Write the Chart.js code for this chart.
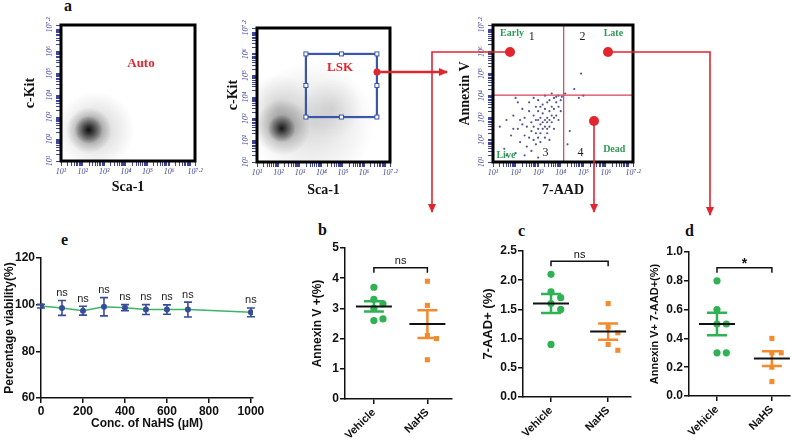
<!DOCTYPE html>
<html>
<head>
<meta charset="utf-8">
<script src="https://cdn.jsdelivr.net/npm/chart.js@4.4.1/dist/chart.umd.min.js"></script>
<style>
  html, body { margin: 0; padding: 0; background: #fff; }
  body { width: 800px; height: 441px; position: relative; overflow: hidden; }
  canvas { position: absolute; }
  .tag { position: absolute; font: bold 16px "Liberation Serif", serif; color: #111; line-height: 1; }
  svg { position: absolute; left: 0; top: 0; pointer-events: none; }
</style>
</head>
<body>
<div class="tag" style="left:64px;top:-2px">a</div>
<div class="tag" style="left:318px;top:222px">b</div>
<div class="tag" style="left:518px;top:223px">c</div>
<div class="tag" style="left:685px;top:223px">d</div>
<div class="tag" style="left:61px;top:232px">e</div>

<script>
// ---- panel a: flow plots, axes in log10 units ----
const decadeTicks = [1, 2, 3, 4, 5, 6, 7.2];
const decadeLabels = ['10¹', '10²', '10³', '10⁴', '10⁵', '10⁶', '10⁷·²'];
// density clouds: [x, y, spread (decades), density]
const autoCloud = [[2.6, 2.4, 1.8, 0.2], [2.3, 2.4, 1.05, 0.5], [2.28, 2.42, 0.65, 0.85]];
const lskCloud = [[3.6, 2.8, 2.9, 0.16], [2.0, 3.5, 1.6, 0.14], [4.5, 3.5, 1.4, 0.1],
                  [2.2, 2.6, 1.3, 0.42], [2.15, 2.55, 0.65, 0.82]];
const lskGate = [3.28, 6.59, 3.08, 6.0]; // x from, x to, y from, y to
const quadCut = [4.13, 4.03];
const apoptosisDots = [
  [1.3, 2.6], [1.5, 1.6], [1.6, 2.9], [1.8, 2.2], [1.9, 3.1], [2.0, 1.4], [2.1, 2.5], [2.2, 2.9],
  [2.2, 1.9], [2.3, 3.4], [2.4, 2.2], [2.4, 3.0], [2.5, 2.6], [2.5, 1.7], [2.6, 3.3], [2.6, 2.1],
  [2.7, 2.8], [2.7, 2.4], [2.7, 1.5], [2.8, 3.1], [2.8, 2.0], [2.8, 2.6], [2.9, 3.5], [2.9, 2.3],
  [2.9, 1.8], [3.0, 2.9], [3.0, 2.5], [3.0, 3.3], [3.0, 2.1], [3.1, 2.7], [3.1, 3.0], [3.1, 1.9],
  [3.1, 2.3], [3.2, 3.6], [3.2, 2.8], [3.2, 2.5], [3.2, 3.2], [3.3, 2.1], [3.3, 2.9], [3.3, 3.4],
  [3.3, 2.6], [3.4, 3.0], [3.4, 3.7], [3.4, 2.3], [3.4, 2.8], [3.5, 3.3], [3.5, 2.6], [3.5, 3.8],
  [3.5, 2.0], [3.6, 3.1], [3.6, 3.5], [3.6, 2.8], [3.7, 3.9], [3.7, 3.4], [3.7, 2.5], [3.8, 3.7],
  [3.8, 3.1], [3.8, 3.95], [3.9, 3.5], [3.9, 2.9], [4.0, 3.8], [4.0, 3.3], [4.05, 3.95], [2.0, 3.9],
  [3.3, 4.0], [3.6, 4.1], [4.3, 1.8], [4.4, 2.4], [4.8, 3.9], [5.0, 4.0], [4.9, 5.0], [4.6, 4.3],
  [4.2, 4.1], [1.6, 1.3], [2.4, 1.3], [3.0, 1.2], [2.1, 3.7], [2.6, 3.7], [3.0, 3.8], [3.9, 4.0],
  [1.9, 2.5], [2.3, 2.7], [3.5, 2.9], [2.8, 3.9], [3.1, 3.5], [2.9, 2.9], [3.4, 2.5], [3.7, 3.0]
];

// ---- panels b-d: apoptosis percentages ----
const groups = ['Vehicle', 'NaHS'];
const annexinVehicle = [3.7, 3.3, 3.15, 3.0, 2.6, 2.65];
const annexinNaHS = [3.9, 3.1, 2.1, 2.0, 1.3];
const aadVehicle = [2.1, 1.8, 1.7, 1.6, 1.5, 0.9];
const aadNaHS = [1.6, 1.2, 1.1, 0.9, 0.8];
const doubleVehicle = [0.8, 0.6, 0.5, 0.5, 0.3, 0.3];
const doubleNaHS = [0.4, 0.3, 0.3, 0.2, 0.1];
const significance = ['ns', 'ns', '*'];

// ---- panel e: viability ----
const concentrations = [0, 100, 200, 300, 400, 500, 600, 700, 1000];
const viability = [99.4, 98.6, 97.4, 99.1, 98.7, 97.9, 97.9, 97.9, 96.7];
const viabilitySem = [0.8, 3.2, 1.9, 3.9, 1.3, 2.1, 2.0, 3.2, 1.9];
const viabilityStats = ['', 'ns', 'ns', 'ns', 'ns', 'ns', 'ns', 'ns', 'ns'];

const serif = '"Liberation Serif", "Times New Roman", serif';
const sans = '"Liberation Sans", Arial, sans-serif';
const TICK_BLUE = '#3f469a';
const RED = '#e0262f';
const GREEN = '#2fb254';
const ORANGE = '#f28a2e';

Chart.defaults.animation = false;
Chart.defaults.responsive = false;
Chart.defaults.plugins.legend.display = false;
Chart.defaults.plugins.tooltip.enabled = false;

// canvas placed so that chartArea lands on box = [left, top, right, bottom]
function makeCanvas(box, pad) {
  const c = document.createElement('canvas');
  c.width = box[2] - box[0] + pad.l + pad.r;
  c.height = box[3] - box[1] + pad.t + pad.b;
  c.style.left = (box[0] - pad.l) + 'px';
  c.style.top = (box[1] - pad.t) + 'px';
  document.body.appendChild(c);
  return c;
}
function fixedLayout(pad) {
  return { autoPadding: false, padding: { left: 0, top: pad.t, right: pad.r, bottom: 0 } };
}

function logTicks() {
  const t = [];
  for (let n = 1; n <= 7; n++) {
    for (let k = 1; k <= 9; k++) {
      const v = n + Math.log10(k);
      if (v < 7.2) t.push({ value: v });
    }
  }
  t.push({ value: 7.2 });
  return t;
}
function decadeLabel(v) {
  const i = decadeTicks.findIndex(d => Math.abs(d - v) < 1e-6);
  return i >= 0 ? decadeLabels[i] : '';
}

function flowAxis(title, vertical, size, titlePad) {
  return {
    type: 'linear', min: 1, max: 7.2,
    afterBuildTicks: s => { s.ticks = logTicks(); },
    afterFit: s => { if (vertical) s.width = size; else s.height = size; },
    ticks: {
      autoSkip: false, maxRotation: 0, padding: 1, color: TICK_BLUE,
      font: { family: serif, size: 8, style: 'italic' },
      callback: v => vertical ? '' : decadeLabel(v)
    },
    grid: { drawOnChartArea: false, drawTicks: true, tickLength: 5, color: TICK_BLUE, lineWidth: 1 },
    border: { display: false },
    title: { display: true, text: title, color: '#111', padding: { top: titlePad, bottom: titlePad },
             font: { family: serif, size: 14, weight: 'bold' } }
  };
}

// rotated decade labels on y, and the heavy frame
const flowFrame = {
  id: 'flowFrame',
  afterDraw(chart) {
    const { ctx, chartArea: a, scales: { y } } = chart;
    ctx.save();
    ctx.font = 'italic 8px ' + serif;
    ctx.fillStyle = TICK_BLUE;
    ctx.textAlign = 'center';
    ctx.textBaseline = 'middle';
    decadeTicks.forEach((v, i) => {
      ctx.save();
      ctx.translate(a.left - 11, y.getPixelForValue(v));
      ctx.rotate(-Math.PI / 2);
      ctx.fillText(decadeLabels[i], 0, 0);
      ctx.restore();
    });
    ctx.lineWidth = 3;
    ctx.strokeStyle = '#000';
    ctx.strokeRect(a.left, a.top, a.right - a.left, a.bottom - a.top);
    ctx.restore();
  }
};

function cloudRadius(c) {
  const area = c.chart.chartArea;
  if (c.type !== 'data' || !area || !c.raw) return 0;
  return c.raw[2] * area.width / 6.2;
}
function cloudFill(c) {
  const ch = c.chart;
  if (c.type !== 'data' || !ch.chartArea || !c.raw) return 'rgba(0,0,0,0)';
  const px = ch.scales.x.getPixelForValue(c.raw[0]);
  const py = ch.scales.y.getPixelForValue(c.raw[1]);
  const r = Math.max(cloudRadius(c), 1);
  if (!isFinite(px) || !isFinite(py)) return 'rgba(0,0,0,0)';
  const d = c.raw[3];
  const g = ch.ctx.createRadialGradient(px, py, 0, px, py, r);
  g.addColorStop(0, `rgba(0,0,0,${d})`);
  g.addColorStop(0.45, `rgba(0,0,0,${d * 0.5})`);
  g.addColorStop(1, 'rgba(0,0,0,0)');
  return g;
}
function cloudDataset(cloud) {
  return { data: cloud, pointRadius: cloudRadius, pointBackgroundColor: cloudFill, pointBorderWidth: 0 };
}

function textAt(chart, str, x, y, font, color) {
  const { ctx, scales } = chart;
  ctx.save();
  ctx.font = font;
  ctx.fillStyle = color;
  ctx.textAlign = 'center';
  ctx.textBaseline = 'middle';
  ctx.fillText(str, scales.x.getPixelForValue(x), scales.y.getPixelForValue(y));
  ctx.restore();
}

function flowChart(box, pad, xTitle, yTitle, tp, datasets, extra) {
  const chart = new Chart(makeCanvas(box, pad), {
    type: 'scatter',
    data: { datasets },
    options: {
      layout: fixedLayout(pad),
      scales: { x: flowAxis(xTitle, false, pad.b, tp.x), y: flowAxis(yTitle, true, pad.l, tp.y) },
      elements: { point: { hoverRadius: 0 } }
    },
    plugins: [flowFrame, { id: 'extra', afterDatasetsDraw: extra }]
  });
  chart.update(); // second pass so the scriptable clouds see the finished layout
  return chart;
}

// panel a, left: autofluorescence
flowChart([61, 25, 195, 161], { l: 47, t: 10, r: 12, b: 40 }, 'Sca-1', 'c-Kit', { x: 5.6, y: 7.6 },
  [cloudDataset(autoCloud)],
  chart => textAt(chart, 'Auto', 4.7, 5.42, 'bold 13px ' + serif, RED));

// panel a, middle: LSK gate
flowChart([257, 28, 390, 162], { l: 42, t: 13, r: 12, b: 42 }, 'Sca-1', 'c-Kit', { x: 5.6, y: 9.6 },
  [cloudDataset(lskCloud)],
  chart => {
    const { ctx, scales: { x, y } } = chart;
    const x0 = x.getPixelForValue(lskGate[0]), x1 = x.getPixelForValue(lskGate[1]);
    const y0 = y.getPixelForValue(lskGate[3]), y1 = y.getPixelForValue(lskGate[2]);
    ctx.save();
    ctx.strokeStyle = '#3b55a8';
    ctx.lineWidth = 2.2;
    ctx.strokeRect(x0, y0, x1 - x0, y1 - y0);
    ctx.fillStyle = '#fff';
    ctx.lineWidth = 1;
    [[x0, y0], [(x0 + x1) / 2, y0], [x1, y0], [x0, (y0 + y1) / 2], [x1, (y0 + y1) / 2],
     [x0, y1], [(x0 + x1) / 2, y1], [x1, y1]].forEach(([hx, hy]) => {
      ctx.fillRect(hx - 2, hy - 2, 4, 4);
      ctx.strokeRect(hx - 2, hy - 2, 4, 4);
    });
    ctx.restore();
    textAt(chart, 'LSK', 4.87, 5.35, 'bold 13px ' + serif, RED);
  });

// panel a, right: Annexin V / 7-AAD quadrants
const quadLabels = [
  ['Early', 1.84, 6.84, true], ['1', 2.72, 6.66, false], ['2', 4.96, 6.66, false], ['Late', 6.33, 6.84, true],
  ['Live', 1.57, 1.32, true], ['3', 3.33, 1.42, false], ['4', 4.88, 1.42, false], ['Dead', 6.37, 1.59, true]
];
flowChart([493, 25, 633, 162], { l: 43, t: 10, r: 12, b: 42 }, '7-AAD', 'Annexin V', { x: 5.6, y: 6.6 },
  [{ data: apoptosisDots, pointRadius: 1.1, pointBackgroundColor: '#55558f', pointBorderWidth: 0 }],
  chart => {
    const { ctx, chartArea: a, scales: { x, y } } = chart;
    ctx.save();
    ctx.strokeStyle = '#d9415a';
    ctx.lineWidth = 1.2;
    ctx.beginPath();
    ctx.moveTo(x.getPixelForValue(quadCut[0]), a.top);
    ctx.lineTo(x.getPixelForValue(quadCut[0]), a.bottom);
    ctx.moveTo(a.left, y.getPixelForValue(quadCut[1]));
    ctx.lineTo(a.right, y.getPixelForValue(quadCut[1]));
    ctx.stroke();
    ctx.restore();
    quadLabels.forEach(([t, lx, ly, named]) =>
      textAt(chart, t, lx, ly, named ? 'bold 10px ' + serif : '12px ' + serif, named ? '#2e9a55' : '#222'));
  });

// ---- panels b-d ----
function swarm(vals, cat, range) {
  const placed = [];
  return vals.map(v => {
    for (const o of [0, 0.17, -0.17, 0.34, -0.34]) {
      if (!placed.some(p => Math.abs(p.x - cat - o) < 0.05 && Math.abs(p.y - v) < range * 0.05)) {
        const p = { x: cat + o, y: v };
        placed.push(p);
        return p;
      }
    }
    return { x: cat, y: v };
  });
}

const meanSem = {
  id: 'meanSem',
  afterDatasetsDraw(chart, args, opts) {
    const { ctx, scales: { x, y } } = chart;
    ctx.save();
    let top = -Infinity;
    chart.data.datasets.forEach((ds, i) => {
      const vals = ds.data.map(p => p.y);
      const n = vals.length;
      const m = vals.reduce((a, b) => a + b, 0) / n;
      const sem = Math.sqrt(vals.reduce((a, v) => a + (v - m) ** 2, 0) / (n - 1) / n);
      top = Math.max(top, ...vals);
      const cx = x.getPixelForValue(i + 1);
      const yHi = y.getPixelForValue(m + sem), yLo = y.getPixelForValue(m - sem);
      ctx.strokeStyle = ds.pointBackgroundColor;
      ctx.lineWidth = 2.5;
      ctx.beginPath();
      ctx.moveTo(cx, yHi); ctx.lineTo(cx, yLo);
      ctx.moveTo(cx - 10, yHi); ctx.lineTo(cx + 10, yHi);
      ctx.moveTo(cx - 10, yLo); ctx.lineTo(cx + 10, yLo);
      ctx.stroke();
      ctx.strokeStyle = '#111';
      ctx.lineWidth = 2;
      ctx.beginPath();
      ctx.moveTo(cx - 18, y.getPixelForValue(m)); ctx.lineTo(cx + 18, y.getPixelForValue(m));
      ctx.stroke();
    });
    // comparison bracket
    const by = y.getPixelForValue(top + (y.max - y.min) * 0.09);
    const bx0 = x.getPixelForValue(1), bx1 = x.getPixelForValue(2);
    ctx.strokeStyle = '#111';
    ctx.lineWidth = 1.5;
    ctx.beginPath();
    ctx.moveTo(bx0, by + 5); ctx.lineTo(bx0, by); ctx.lineTo(bx1, by); ctx.lineTo(bx1, by + 5);
    ctx.stroke();
    ctx.fillStyle = '#111';
    ctx.textAlign = 'center';
    ctx.textBaseline = 'bottom';
    ctx.font = (opts.label === '*' ? 'bold 14px ' : '11px ') + sans;
    ctx.fillText(opts.label, (bx0 + bx1) / 2, by - (opts.label === '*' ? -3 : 1));
    ctx.restore();
  }
};

function dotPlot(box, pad, xMin, xMax, yMax, step, decimals, yTitle, titleSize, titlePad, vehicle, nahs, label) {
  return new Chart(makeCanvas(box, pad), {
    type: 'scatter',
    data: {
      datasets: [
        { data: swarm(vehicle, 1, yMax), pointStyle: 'circle', pointRadius: 3.6, pointBackgroundColor: GREEN, pointBorderWidth: 0 },
        { data: swarm(nahs, 2, yMax), pointStyle: 'rect', pointRadius: 3.6, pointBackgroundColor: ORANGE, pointBorderWidth: 0 }
      ]
    },
    options: {
      layout: fixedLayout(pad),
      elements: { point: { hoverRadius: 0 } },
      plugins: { meanSem: { label } },
      scales: {
        x: {
          type: 'linear', min: xMin, max: xMax,
          afterBuildTicks: s => { s.ticks = [{ value: 1 }, { value: 2 }]; },
          afterFit: s => { s.height = pad.b; },
          ticks: { autoSkip: false, minRotation: 45, maxRotation: 45, padding: 2, color: '#111',
                   font: { family: sans, size: 11, weight: 'bold' }, callback: v => groups[v - 1] },
          grid: { drawOnChartArea: false, tickLength: 5, color: '#111', lineWidth: 1.5 },
          border: { color: '#111', width: 1.5 }
        },
        y: {
          min: 0, max: yMax,
          afterFit: s => { s.width = pad.l; },
          ticks: { stepSize: step, padding: 1, color: '#111', font: { family: sans, size: 12, weight: 'bold' },
                   callback: v => v.toFixed(decimals) },
          grid: { drawOnChartArea: false, tickLength: 5, color: '#111', lineWidth: 1.5 },
          border: { color: '#111', width: 1.5 },
          title: { display: true, text: yTitle, color: '#111', padding: { top: titlePad, bottom: 0 },
                   font: { family: sans, size: titleSize, weight: 'bold' } }
        }
      }
    },
    plugins: [meanSem]
  });
}

dotPlot([345, 248, 452, 399], { l: 45, t: 23, r: 6, b: 42 }, 0.46, 2.46, 5, 1, 0, 'Annexin V +(%)', 12, 10.8,
  annexinVehicle, annexinNaHS, significance[0]);
dotPlot([523, 251, 631, 397], { l: 55, t: 26, r: 9, b: 44 }, 0.51, 2.4, 2.5, 0.5, 1, '7-AAD+ (%)', 13, 13,
  aadVehicle, aadNaHS, significance[1]);
dotPlot([689, 252, 790, 396], { l: 49, t: 27, r: 10, b: 45 }, 0.49, 2.33, 1.0, 0.2, 1, 'Annexin V+ 7-AAD+(%)', 11, 8.4,
  doubleVehicle, doubleNaHS, significance[2]);

// ---- panel e ----
const errorBars = {
  id: 'errorBars',
  afterDatasetsDraw(chart) {
    const { ctx, scales: { x, y } } = chart;
    ctx.save();
    ctx.strokeStyle = '#3a4c98';
    ctx.lineWidth = 1.6;
    ctx.fillStyle = '#222';
    ctx.font = '11px ' + sans;
    ctx.textAlign = 'center';
    ctx.textBaseline = 'bottom';
    concentrations.forEach((c, i) => {
      const px = x.getPixelForValue(c);
      const hi = y.getPixelForValue(viability[i] + viabilitySem[i]);
      const lo = y.getPixelForValue(viability[i] - viabilitySem[i]);
      ctx.beginPath();
      ctx.moveTo(px, hi); ctx.lineTo(px, lo);
      ctx.moveTo(px - 4, hi); ctx.lineTo(px + 4, hi);
      ctx.moveTo(px - 4, lo); ctx.lineTo(px + 4, lo);
      ctx.stroke();
      if (viabilityStats[i]) ctx.fillText(viabilityStats[i], px, hi - 2);
    });
    ctx.restore();
  }
};

(function () {
  const box = [41, 258, 253, 398], pad = { l: 41, t: 33, r: 17, b: 43 };
  new Chart(makeCanvas(box, pad), {
    type: 'scatter',
    data: {
      datasets: [{
        data: concentrations.map((c, i) => ({ x: c, y: viability[i] })),
        showLine: true, borderColor: '#3cb46a', borderWidth: 1.5,
        pointRadius: 3, pointBackgroundColor: '#34509a', pointBorderWidth: 0
      }]
    },
    options: {
      layout: fixedLayout(pad),
      elements: { point: { hoverRadius: 0 } },
      scales: {
        x: {
          type: 'linear', min: 0, max: 1010,
          afterBuildTicks: s => { s.ticks = [0, 200, 400, 600, 800, 1000].map(v => ({ value: v })); },
          afterFit: s => { s.height = pad.b; },
          ticks: { maxRotation: 0, padding: 1, color: '#111', font: { family: sans, size: 12, weight: 'bold' },
                   callback: v => String(v) },
          grid: { drawOnChartArea: false, tickLength: 5, color: '#111', lineWidth: 1.5 },
          border: { color: '#111', width: 1.5 },
          title: { display: true, text: 'Conc. of NaHS (μM)', color: '#111', padding: { top: 0, bottom: 9.8 },
                   font: { family: sans, size: 12, weight: 'bold' } }
        },
        y: {
          min: 60, max: 120,
          afterFit: s => { s.width = pad.l; },
          ticks: { stepSize: 20, padding: 1, color: '#111', font: { family: sans, size: 12, weight: 'bold' } },
          grid: { drawOnChartArea: false, tickLength: 5, color: '#111', lineWidth: 1.5 },
          border: { color: '#111', width: 1.5 },
          title: { display: true, text: 'Percentage viability(%)', color: '#111', padding: { top: 2, bottom: 0 },
                   font: { family: sans, size: 12, weight: 'bold' } }
        }
      }
    },
    plugins: [errorBars]
  });
})();
</script>

<svg width="800" height="441" viewBox="0 0 800 441">
  <defs>
    <marker id="head" markerUnits="userSpaceOnUse" markerWidth="9" markerHeight="8" refX="8" refY="4" orient="auto">
      <path d="M0,0 L9,4 L0,8 Z" fill="#e0262f"/>
    </marker>
  </defs>
  <g stroke="#e0262f" stroke-width="1.6" fill="none">
    <polyline points="377,72 447,72" stroke-width="2.4" marker-end="url(#head)"/>
    <polyline points="510,52 432,52 432,212" marker-end="url(#head)"/>
    <polyline points="608,52 710,52 710,215" marker-end="url(#head)"/>
    <polyline points="594,121 594,212" marker-end="url(#head)"/>
  </g>
  <g fill="#e0262f">
    <circle cx="377" cy="72" r="3.5"/>
    <circle cx="510" cy="52" r="5"/>
    <circle cx="608" cy="52" r="5"/>
    <circle cx="594" cy="121" r="5"/>
  </g>
</svg>
</body>
</html>
